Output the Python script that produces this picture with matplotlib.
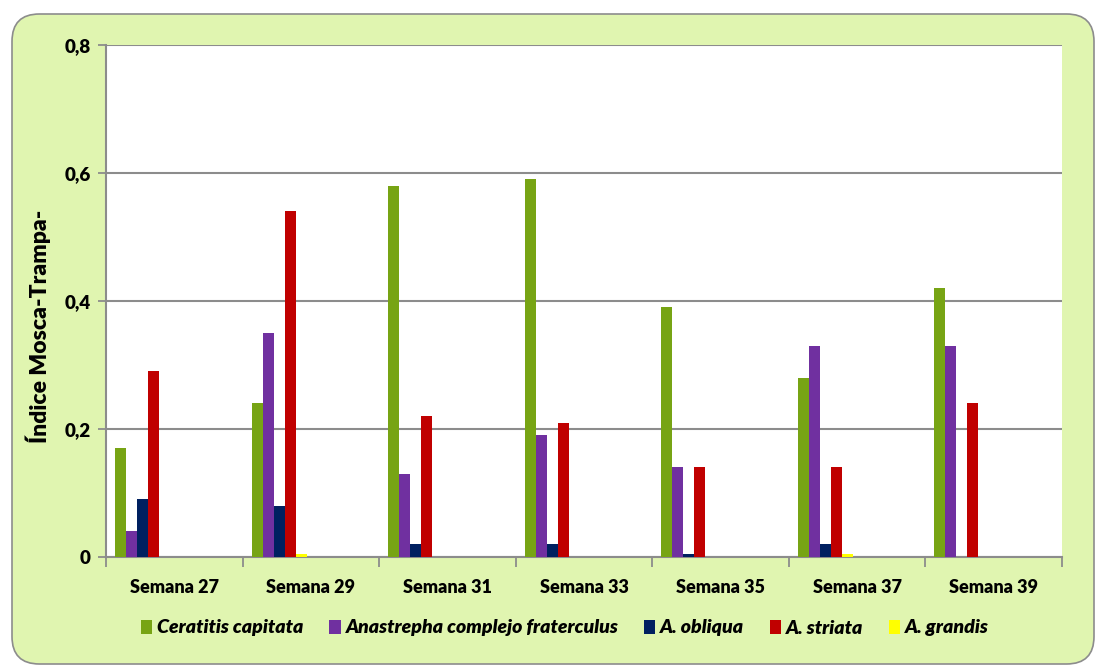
import matplotlib
matplotlib.use('Agg')
import matplotlib.pyplot as plt
from matplotlib.patches import FancyBboxPatch
from matplotlib.ticker import FuncFormatter
import numpy as np

weeks = ["Semana 27", "Semana 29", "Semana 31", "Semana 33", "Semana 35", "Semana 37", "Semana 39"]
species = ["Ceratitis capitata", "Anastrepha complejo fraterculus", "A. obliqua", "A. striata", "A. grandis"]
ceratitis = [0.17, 0.24, 0.58, 0.59, 0.39, 0.28, 0.42]
anastrepha = [0.04, 0.35, 0.13, 0.19, 0.14, 0.33, 0.33]
obliqua = [0.09, 0.08, 0.02, 0.02, 0.004, 0.02, 0.0]
striata = [0.29, 0.54, 0.22, 0.21, 0.14, 0.14, 0.24]
grandis = [0.0, 0.004, 0.0, 0.0, 0.0, 0.004, 0.0]
colors = ["#77A414", "#7030A0", "#002060", "#C00000", "#FFFF00"]

FONT = "Lato"
W = 800  # heavier than plain bold, closer to the original
BG = "#E0F5B0"

fig = plt.figure(figsize=(10.97, 6.68), dpi=100)
fig.patch.set_facecolor("white")

# rounded chart frame, drawn under the axes
frame = FancyBboxPatch((12 / 1097, 4 / 668), 1082 / 1097, 650 / 668,
                       boxstyle="round,pad=0,rounding_size=0.025",
                       transform=fig.transFigure, facecolor=BG,
                       edgecolor="#8C8C8C", linewidth=1.2, zorder=-5,
                       mutation_aspect=1097 / 668)
fig.patches.append(frame)

ax = fig.add_axes([106 / 1097, 1 - 557 / 668, 956 / 1097, 512 / 668])
ax.set_facecolor("white")

x = np.arange(len(weeks))
width = 0.0805
start = -0.434
for j, (vals, name) in enumerate(zip([ceratitis, anastrepha, obliqua, striata, grandis], species)):
    ax.bar(x + start + j * width, vals, width=width, align="edge", color=colors[j],
           label=name, zorder=3, linewidth=0)

ax.set_xlim(-0.5, len(weeks) - 0.5)
ax.set_ylim(0, 0.8)
ax.set_yticks([0, 0.2, 0.4, 0.6, 0.8])
ax.yaxis.set_major_formatter(FuncFormatter(lambda v, p: "0" if v == 0 else ("%.1f" % v).replace(".", ",")))
ax.grid(axis="y", color="#8C8C8C", linewidth=1.5, zorder=1)
ax.set_axisbelow(True)

ax.set_xticks(x)
ax.set_xticklabels(weeks, fontsize=13, fontweight=W, family=FONT)
ax.set_xticks(np.arange(-0.5, len(weeks)), minor=True)
ax.tick_params(axis="x", which="major", length=0, pad=16)
ax.tick_params(axis="x", which="minor", length=7, width=1.3, color="#8C8C8C")
ax.tick_params(axis="y", length=6, width=1.3, color="#8C8C8C", pad=5)
for lab in ax.get_yticklabels():
    lab.set_fontsize(13.5)
    lab.set_fontweight(W)
    lab.set_family(FONT)

for s in ["top", "right"]:
    ax.spines[s].set_visible(False)
for s in ["left", "bottom"]:
    ax.spines[s].set_color("#8C8C8C")
    ax.spines[s].set_linewidth(1.5)

ax.set_ylabel("Índice Mosca-Trampa-", fontsize=16.5, fontweight=W, family=FONT)
ax.yaxis.set_label_coords(-0.058, 0.45)

leg = fig.legend(loc="center", bbox_to_anchor=(565 / 1097, 1 - 628 / 668), ncol=5, frameon=False,
                 handlelength=0.6, handleheight=0.75, handletextpad=0.25, columnspacing=1.3,
                 prop={"family": FONT, "weight": W, "style": "italic", "size": 14})

fig.savefig("out.png", dpi=100)
